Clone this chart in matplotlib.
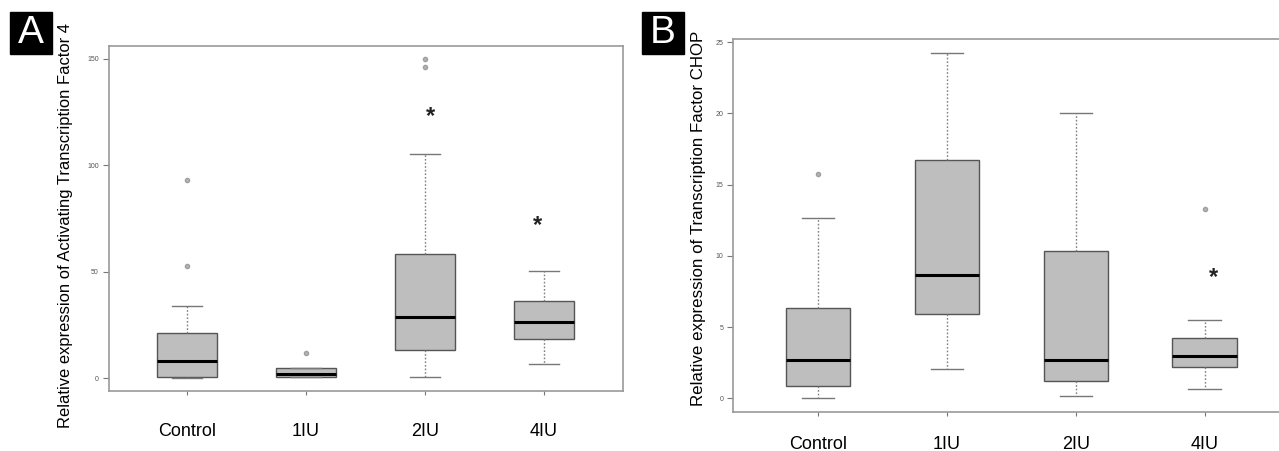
import matplotlib.pyplot as plt
from matplotlib.patches import Rectangle
from matplotlib import font_manager

groups = ["Control", "1IU", "2IU", "4IU"]

# panel A: Activating Transcription Factor 4
atf4_q1 = [0.3, 0.3, 13.0, 18.4]
atf4_med = [7.8, 2.0, 28.7, 26.4]
atf4_q3 = [21.2, 4.6, 58.4, 36.4]
atf4_lo = [0.0, 0.3, 0.5, 6.8]
atf4_hi = [33.8, 4.6, 105.2, 50.1]
atf4_out = [[52.6, 93.0], [11.8], [146.2, 150.0], []]
atf4_star_x = [3.05, 3.945]
atf4_star_y = [124.0, 72.7]

# panel B: CHOP
chop_q1 = [0.89, 5.9, 1.22, 2.22]
chop_med = [2.72, 8.64, 2.67, 2.95]
chop_q3 = [6.32, 16.72, 10.37, 4.22]
chop_lo = [0.0, 2.06, 0.19, 0.68]
chop_hi = [12.67, 24.24, 20.02, 5.5]
chop_out = [[15.74], [], [], [13.3]]
chop_star_x = [4.07]
chop_star_y = [8.64]

names = {f.name for f in font_manager.fontManager.ttflist}
narrow = "Liberation Sans Narrow" if "Liberation Sans Narrow" in names else "Liberation Sans"
plt.rcParams['font.family'] = ['Liberation Sans', 'DejaVu Sans']

W, H = 1279, 451
fig = plt.figure(figsize=(W / 100, H / 100), dpi=100)


def make_stats(q1, med, q3, lo, hi, out):
    return [dict(q1=a, med=b, q3=c, whislo=d, whishi=e, fliers=f)
            for a, b, c, d, e, f in zip(q1, med, q3, lo, hi, out)]


def draw(ax, stats, ylim, yticks, xpad, stars):
    ax.bxp(stats, positions=[1, 2, 3, 4], widths=0.5, patch_artist=True,
           boxprops=dict(facecolor="#bebebe", edgecolor="#555555", linewidth=1),
           medianprops=dict(color="black", linewidth=2.2),
           whiskerprops=dict(color="#808080", linewidth=1, linestyle=(0, (1.2, 1.4))),
           capprops=dict(color="#777777", linewidth=1),
           capwidths=0.25,
           flierprops=dict(marker="o", markersize=3, markerfacecolor="#b4b4b4",
                           markeredgecolor="#a0a0a0"))
    ax.set_xlim(0.34, 4.66)
    ax.set_ylim(*ylim)
    ax.set_yticks(yticks)
    ax.tick_params(axis="y", length=4, width=0.8, color="#777777", pad=3,
                   labelsize=5, labelcolor="#555555")
    ax.set_xticks([1, 2, 3, 4])
    ax.set_xticklabels(groups, family=narrow, fontsize=13)
    ax.tick_params(axis="x", length=3, width=0.8, color="#777777", pad=xpad)
    for s in ax.spines.values():
        s.set_color("#999999")
        s.set_linewidth(1.2)
    for x, y in zip(*stars):
        ax.text(x, y, "*", fontsize=17, fontweight="bold", ha="center",
                va="center_baseline", color="#222222")


axA = fig.add_axes([108.5 / W, 1 - 390.8 / H, 514 / W, 344.6 / H])
draw(axA, make_stats(atf4_q1, atf4_med, atf4_q3, atf4_lo, atf4_hi, atf4_out),
     (-6, 156), [0, 50, 100, 150], 20, (atf4_star_x, atf4_star_y))

axB = fig.add_axes([733 / W, 1 - 412.1 / H, 556.6 / W, 372.9 / H])
draw(axB, make_stats(chop_q1, chop_med, chop_q3, chop_lo, chop_hi, chop_out),
     (-0.97, 25.2), [0, 5, 10, 15, 20, 25], 14, (chop_star_x, chop_star_y))

fig.text(66 / W, 1 - 225 / H, "Relative expression of Activating Transcription Factor 4",
         rotation=90, ha="center", va="center", fontsize=11.9)
fig.text(698 / W, 1 - 218.5 / H, "Relative expression of Transcription Factor CHOP",
         rotation=90, ha="center", va="center", fontsize=12.2)

# panel letters in black squares
for x0, letter in [(10, "A"), (642, "B")]:
    fig.patches.append(Rectangle((x0 / W, 1 - 54 / H), 42 / W, 42 / H,
                                 transform=fig.transFigure, color="black"))
    fig.text((x0 + 21) / W, 1 - 33 / H, letter, color="white", fontsize=28,
             ha="center", va="center")

fig.savefig("out.png", dpi=100)
